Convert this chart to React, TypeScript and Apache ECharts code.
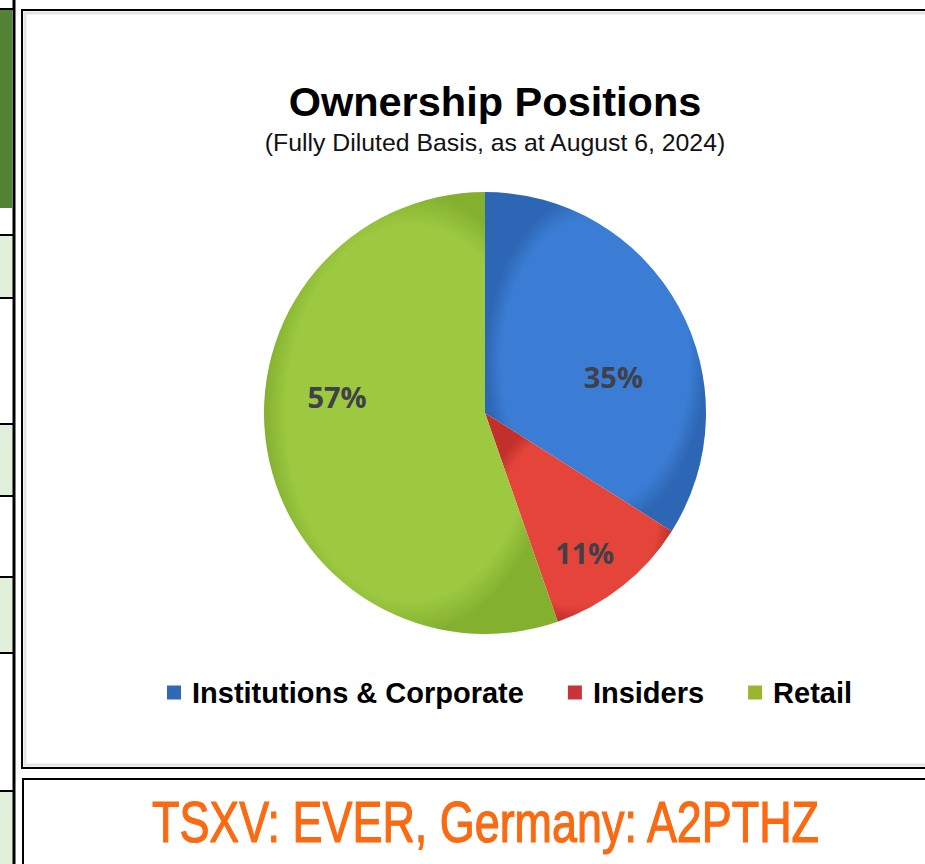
import React, { useEffect, useRef } from "react";
import * as echarts from "echarts";

const categories = ["Institutions & Corporate", "Insiders", "Retail"];
const values = [35, 11, 57];
const sliceColors = ["#3b7dd4", "#e4443a", "#9cc940"];
const sliceEdgeColors = ["#2d66b4", "#c2302c", "#84b030"];
const legendColors = ["#2f6ab8", "#c8343a", "#9ab52e"];
const labelNudge = [
  [29, 18],
  [29, 51],
  [-36, -35],
];
const titleText = "Ownership Positions";
const subtitleText = "(Fully Diluted Basis, as at August 6, 2024)";
const tickerText = "TSXV: EVER, Germany: A2PTHZ";
const tableLines = [235, 298, 424, 496, 577, 653, 791];
const tableBands = [
  [235, 298],
  [424, 496],
  [577, 653],
  [791, 864],
];

export default function App() {
  const ref = useRef<HTMLDivElement>(null);
  useEffect(() => {
    if (!ref.current) return;
    const chart = echarts.init(ref.current, undefined, { renderer: "svg" });
    const graphics: any[] = [];
    // left table column
    tableBands.forEach(([a, b]) =>
      graphics.push({ type: "rect", z: 0, shape: { x: 0, y: a, width: 13, height: b - a }, style: { fill: "#e2efda" } })
    );
    graphics.push({ type: "rect", z: 0, shape: { x: 0, y: 10, width: 12, height: 198 }, style: { fill: "#548235" } });
    graphics.push({ type: "line", z: 1, shape: { x1: 0, y1: 9, x2: 14, y2: 9 }, style: { stroke: "#000", lineWidth: 2 } });
    tableLines.forEach((y) =>
      graphics.push({ type: "line", z: 1, shape: { x1: 0, y1: y, x2: 14, y2: y }, style: { stroke: "#000", lineWidth: 2 } })
    );
    graphics.push({ type: "line", z: 1, shape: { x1: 14, y1: 0, x2: 14, y2: 864 }, style: { stroke: "#000", lineWidth: 3 } });
    // chart box
    graphics.push({ type: "rect", z: 0, shape: { x: 22, y: 10, width: 920, height: 758 }, style: { fill: "#fff", stroke: "#000", lineWidth: 2 } });
    graphics.push({ type: "rect", z: 0, shape: { x: 25, y: 13, width: 920, height: 752 }, style: { fill: "none", stroke: "#e4e4e4", lineWidth: 3 } });
    // bottom box
    graphics.push({ type: "rect", z: 0, shape: { x: 23, y: 779, width: 920, height: 100 }, style: { fill: "#fff", stroke: "#000", lineWidth: 2 } });
    graphics.push({
      type: "text",
      z: 5,
      x: 152,
      y: 823,
      scaleX: 0.788,
      style: {
        text: tickerText,
        fill: "#f96a12",
        stroke: "#f96a12",
        lineWidth: 1.2,
        fontSize: 57,
        fontFamily: "Liberation Sans, Arial, sans-serif",
        align: "left",
        verticalAlign: "middle",
      },
    });

    chart.setOption({
      animation: false,
      backgroundColor: "#ffffff",
      title: [
        {
          text: titleText,
          left: 490,
          top: 75,
          textAlign: "center",
          textStyle: { fontSize: 41.5, fontWeight: "bold", color: "#000", fontFamily: "Liberation Sans, Arial, sans-serif" },
        },
        {
          text: subtitleText,
          left: 490,
          top: 125,
          textAlign: "center",
          textStyle: { fontSize: 24.8, fontWeight: "normal", color: "#111", fontFamily: "Liberation Sans, Arial, sans-serif" },
        },
      ],
      legend: {
        left: 162,
        top: 673,
        itemWidth: 14,
        itemHeight: 14,
        itemGap: 44,
        icon: "rect",
        data: categories.map((c, i) => ({ name: c, itemStyle: { color: legendColors[i] } })),
        textStyle: {
          fontSize: 29,
          fontWeight: "bold",
          color: "#000",
          fontFamily: "Liberation Sans, Arial, sans-serif",
          padding: [0, 0, 0, 6],
        },
      },
      graphic: graphics,
      series: [
        {
          type: "pie",
          center: [485, 413],
          radius: [0, 221],
          startAngle: 90,
          clockwise: true,
          z: 3,
          silent: true,
          itemStyle: { borderWidth: 0 },
          label: {
            show: true,
            position: "inside",
            formatter: "{c}%",
            fontSize: 29,
            fontWeight: "bold",
            color: "#404048",
            fontFamily: "Open Sans, sans-serif",
          },
          labelLayout: (p: any) => ({ dx: labelNudge[p.dataIndex][0], dy: labelNudge[p.dataIndex][1] }),
          data: categories.map((c, i) => ({
            name: c,
            value: values[i],
            itemStyle: {
              color: {
                type: "radial",
                x: 0.5,
                y: 0.5,
                r: 0.5,
                colorStops: [
                  { offset: 0, color: sliceColors[i] },
                  { offset: 0.85, color: sliceColors[i] },
                  { offset: 1, color: sliceEdgeColors[i] },
                ],
              },
            },
          })),
        },
      ],
    });
    return () => chart.dispose();
  }, []);
  return <div ref={ref} style={{ position: "absolute", left: 0, top: 0, width: 925, height: 864 }} />;
}
